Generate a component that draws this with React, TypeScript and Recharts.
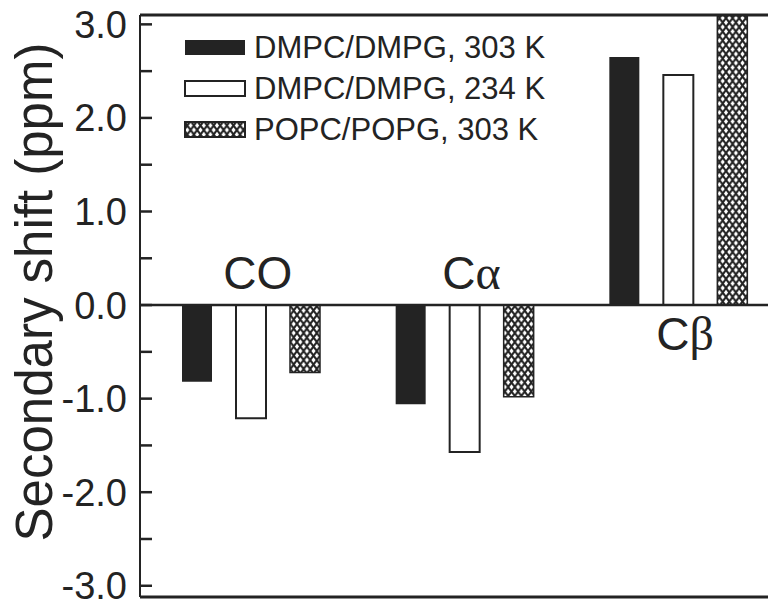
import React from "react"
import {
  BarChart,
  Bar,
  XAxis,
  YAxis,
  ReferenceLine,
  ReferenceDot,
  Legend,
} from "recharts"

// categories + series values (ppm)
const categories = ["CO", "Cα", "Cβ"]
const dmpc303 = [-0.82, -1.06, 2.65]
const dmpc234 = [-1.21, -1.57, 2.46]
const popc303 = [-0.72, -0.98, 3.3]
const seriesNames = ["DMPC/DMPG, 303 K", "DMPC/DMPG, 234 K", "POPC/POPG, 303 K"]
const yTicks = [-3, -2.5, -2, -1.5, -1, -0.5, 0, 0.5, 1, 1.5, 2, 2.5, 3]
const yDomain = [-3.12, 3.1]

const data = categories.map((name, i) => ({
  name,
  dmpc303: dmpc303[i],
  dmpc234: dmpc234[i],
  popc303: popc303[i],
}))

const INK = "#232323"
const FONT = "'Liberation Sans', Arial, sans-serif"

const HatchDef = ({ id }: { id: string }) => (
  <pattern id={id} patternUnits="userSpaceOnUse" width={6.6} height={9}>
    <rect width={6.6} height={9} fill="#fff" />
    <path d="M0,0 L6.6,9 M6.6,0 L0,9" stroke={INK} strokeWidth={2.1} />
  </pattern>
)

const YTick = (props: any) => {
  const { x, y, payload } = props
  const axisX = x + 13
  const whole = Math.abs(payload.value % 1) < 1e-9
  return (
    <g>
      <line x1={axisX} x2={axisX + 12} y1={y} y2={y} stroke={INK} strokeWidth={2.5} />
      {whole && (
        <text x={x} y={y} dy={13.5} textAnchor="end" fontSize={38} fill={INK} fontFamily={FONT}>
          {payload.value.toFixed(1)}
        </text>
      )}
    </g>
  )
}

const YLabel = (props: any) => {
  const vb = props.viewBox || {}
  const cx = 52
  const cy = vb.y + vb.height / 2 - 14
  return (
    <text
      x={cx}
      y={cy}
      transform={`rotate(-90, ${cx}, ${cy})`}
      textAnchor="middle"
      fontSize={51}
      fill={INK}
      fontFamily={FONT}
    >
      Secondary shift (ppm)
    </text>
  )
}

// category name sits on the zero line, on the side away from the bars
const catLabel = (name: string, above: boolean) => (props: any) => {
  const vb = props.viewBox || {}
  const cx = vb.x + (vb.width || 0) / 2 + 7
  const cy = vb.y + (vb.height || 0) / 2
  const head = name.slice(0, 1)
  const greek = name.slice(1)
  return (
    <text
      x={cx}
      y={above ? cy - 16 : cy + 45}
      textAnchor="middle"
      fontSize={46}
      fill={INK}
      fontFamily={FONT}
    >
      {head}
      {greek && greek !== "O" ? (
        <tspan fontFamily="'Liberation Serif', 'Times New Roman', serif" fontSize={48}>
          {greek}
        </tspan>
      ) : (
        greek
      )}
    </text>
  )
}

const Swatch = ({ kind }: { kind: number }) => (
  <svg width={62} height={18} style={{ display: "block" }}>
    <defs>
      <HatchDef id="hatchLegend" />
    </defs>
    <rect
      x={1}
      y={1}
      width={60}
      height={15}
      fill={kind === 0 ? INK : kind === 1 ? "#fff" : "url(#hatchLegend)"}
      stroke={INK}
      strokeWidth={kind === 0 ? 0 : 2}
    />
  </svg>
)

const LegendBox = () => (
  <div style={{ fontFamily: FONT, fontSize: 31, color: INK, lineHeight: "41px" }}>
    {seriesNames.map((s, i) => (
      <div key={s} style={{ display: "flex", alignItems: "center", height: 41 }}>
        <Swatch kind={i} />
        <span style={{ marginLeft: 8, whiteSpace: "nowrap" }}>{s}</span>
      </div>
    ))}
  </div>
)

export default function App() {
  return (
    <div
      style={{
        position: "absolute",
        left: 0,
        top: 0,
        width: 768,
        height: 603,
        overflow: "hidden",
        background: "#fff",
      }}
    >
      <BarChart
        width={800}
        height={603}
        data={data}
        margin={{ top: 14, right: 15, bottom: 5, left: 0 }}
        barSize={30}
        barGap={24}
      >
        <defs>
          <HatchDef id="hatchBar" />
        </defs>
        <XAxis
          dataKey="name"
          height={1}
          tick={false}
          tickLine={false}
          padding={{ left: 4, right: 0 }}
          axisLine={{ stroke: INK, strokeWidth: 3 }}
        />
        <XAxis
          xAxisId="top"
          dataKey="name"
          orientation="top"
          height={1}
          tick={false}
          tickLine={false}
          axisLine={{ stroke: INK, strokeWidth: 3 }}
        />
        <YAxis
          width={140}
          domain={yDomain}
          ticks={yTicks}
          allowDataOverflow
          interval={0}
          tickSize={0}
          tickMargin={13}
          tick={<YTick />}
          axisLine={{ stroke: INK, strokeWidth: 2 }}
          label={{ content: <YLabel /> }}
        />
        <ReferenceLine y={0} stroke={INK} strokeWidth={2.5} />
        <Bar dataKey="dmpc303" name={seriesNames[0]} fill={INK} isAnimationActive={false} />
        <Bar
          dataKey="dmpc234"
          name={seriesNames[1]}
          fill="#fff"
          stroke={INK}
          strokeWidth={2}
          isAnimationActive={false}
        />
        <Bar
          dataKey="popc303"
          name={seriesNames[2]}
          fill="url(#hatchBar)"
          stroke={INK}
          strokeWidth={1.5}
          isAnimationActive={false}
        />
        {categories.map((c, i) => (
          <ReferenceDot
            key={c}
            x={c}
            y={0}
            r={0}
            fill="none"
            stroke="none"
            label={catLabel(c, dmpc303[i] < 0)}
          />
        ))}
        <Legend
          layout="vertical"
          align="center"
          verticalAlign="middle"
          content={<LegendBox />}
          wrapperStyle={{ top: 27, left: 184, width: 400 }}
        />
      </BarChart>
    </div>
  )
}
